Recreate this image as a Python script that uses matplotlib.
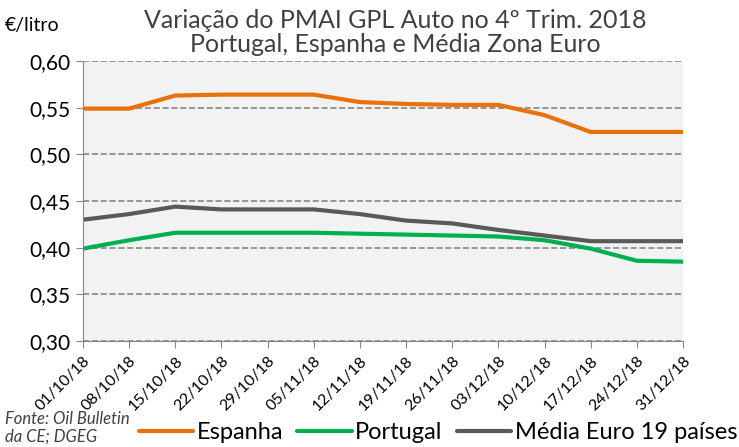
import numpy as np
import matplotlib
matplotlib.use('Agg')
import matplotlib.pyplot as plt

datas = ['01/10/18', '08/10/18', '15/10/18', '22/10/18', '29/10/18', '05/11/18', '12/11/18',
         '19/11/18', '26/11/18', '03/12/18', '10/12/18', '17/12/18', '24/12/18', '31/12/18']
espanha = [0.549, 0.549, 0.563, 0.564, 0.564, 0.564, 0.556, 0.554, 0.553, 0.553, 0.542, 0.524, 0.524, 0.524]
portugal = [0.399, 0.408, 0.416, 0.416, 0.416, 0.416, 0.415, 0.414, 0.413, 0.412, 0.408, 0.399, 0.386, 0.385]
media_euro = [0.430, 0.436, 0.444, 0.441, 0.441, 0.441, 0.436, 0.429, 0.426, 0.419, 0.413, 0.407, 0.407, 0.407]

plt.rcParams['font.family'] = ['Lato', 'DejaVu Sans']

fig = plt.figure(figsize=(7.39, 4.47), dpi=100)
ax = fig.add_axes([0.1123, 0.2371, 0.8119, 0.6264])
ax.set_facecolor('#f2f2f2')

x = np.arange(len(datas))
ax.plot(x, espanha, color='#e8710a', lw=3, label='Espanha', solid_capstyle='round')
ax.plot(x, portugal, color='#00b050', lw=3, label='Portugal', solid_capstyle='round')
ax.plot(x, media_euro, color='#595959', lw=3, label='Média Euro 19 países', solid_capstyle='round')

ax.set_xlim(0, len(datas) - 1)
ax.set_ylim(0.30, 0.60)
yt = np.arange(0.30, 0.601, 0.05)
ax.set_yticks(yt)
ax.set_yticklabels([f'{v:.2f}'.replace('.', ',') for v in yt], fontsize=15)
ax.set_xticks(x)
ax.set_xticklabels(datas, rotation=45, ha='right', rotation_mode='anchor', fontsize=11.5)
ax.tick_params(axis='x', length=5, color='#868686', pad=4)
ax.tick_params(axis='y', length=5, color='#868686', pad=4)
ax.yaxis.grid(True, ls='--', color='#868686', lw=1.2)
ax.set_axisbelow(True)
for s in ['top', 'right']:
    ax.spines[s].set_visible(False)
for s in ['left', 'bottom']:
    ax.spines[s].set_color('#868686')

fig.text(0.535, 0.928, 'Variação do PMAI GPL Auto no 4º Trim. 2018\nPortugal, Espanha e Média Zona Euro',
         ha='center', va='center', fontsize=18, color='#404040', linespacing=1.05)
fig.text(0.007, 0.942, '€/litro', fontsize=14, va='center')
fig.text(0.007, 0.005, 'Fonte: Oil Bulletin\nda CE; DGEG', fontsize=12, style='italic',
         va='bottom', color='#404040', linespacing=1.15)

fig.legend(loc='lower left', bbox_to_anchor=(0.188, 0.008), ncol=3, frameon=False,
           fontsize=17, handlelength=2.3, handletextpad=0.15, columnspacing=0.6,
           borderpad=0, borderaxespad=0)

fig.savefig('out.png', dpi=100)
